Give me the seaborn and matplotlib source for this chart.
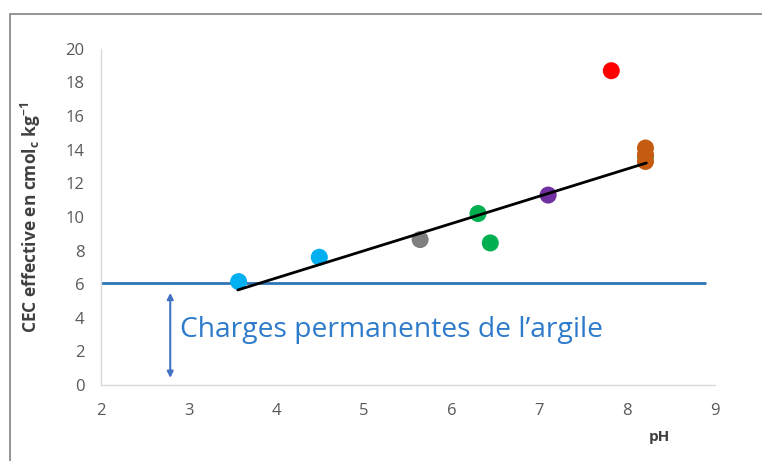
import matplotlib
matplotlib.use("Agg")
import matplotlib.pyplot as plt
import matplotlib.patches as mpatches
import seaborn as sns
import pandas as pd

# Soil samples: pH and effective CEC (cmol_c/kg)
ph_values = [3.57, 4.49, 5.64, 6.30, 6.44, 7.10, 7.82, 8.21, 8.21, 8.21, 8.21]
cec_values = [6.15, 7.6, 8.65, 10.2, 8.45, 11.3, 18.7, 13.6, 13.3, 13.7, 14.1]
groups = ["A", "A", "B", "C", "C", "D", "E", "C", "F", "F", "F"]
group_colors = {"A": "#00B0F0", "B": "#7F7F7F", "C": "#00B050",
                "D": "#7030A0", "E": "#FF0000", "F": "#C55A11"}

# Linear trend endpoints
trend_ph = [3.56, 8.22]
trend_cec = [5.65, 13.21]

# Permanent-charge level
permanent_level = 6.07
arrow_ph = 2.79
arrow_range = [0.42, 5.48]

x_ticks = [2, 3, 4, 5, 6, 7, 8, 9]
y_ticks = [0, 2, 4, 6, 8, 10, 12, 14, 16, 18, 20]

df = pd.DataFrame({"pH": ph_values, "CEC": cec_values, "group": groups})

sns.set_theme(style="white")
plt.rcParams["font.family"] = ["Open Sans", "DejaVu Sans"]

fig = plt.figure(figsize=(7.62, 4.61), dpi=100)
ax = fig.add_axes([0.1325, 0.165, 0.8055, 0.729])

# Outer chart frame
fig.patches.append(mpatches.Rectangle((0.013, -0.2), 1.2, 1.17, transform=fig.transFigure,
                                      fill=False, edgecolor="#8C8C8C", linewidth=1.3,
                                      clip_on=False))

ax.axhline(permanent_level, xmin=0, xmax=(8.89 - 2) / 7, color="#2E75B6",
           linewidth=2, zorder=1)

sns.scatterplot(data=df, x="pH", y="CEC", hue="group", palette=group_colors,
                s=150, edgecolor="none", legend=False, ax=ax, zorder=3)

sns.lineplot(x=trend_ph, y=trend_cec, color="black", linewidth=2, ax=ax, zorder=4)

ax.annotate("", xy=(arrow_ph, arrow_range[0]), xytext=(arrow_ph, arrow_range[1]),
            arrowprops=dict(arrowstyle="<|-|>", color="#4472C4", lw=1.5,
                            mutation_scale=9, shrinkA=0, shrinkB=0))
ax.text(2.9, 3.25, "Charges permanentes de l\u2019argile", color="#2E7BCB",
        fontsize=20.3, va="center", ha="left")

ax.set_xlim(2, 9)
ax.set_ylim(0, 20)
ax.set_xticks(x_ticks)
ax.set_yticks(y_ticks)
ax.tick_params(axis="both", colors="#D9D9D9", labelcolor="#595959", labelsize=12,
               length=5, width=1)
ax.tick_params(axis="x", pad=8)
ax.tick_params(axis="y", direction="out", pad=7)

for side in ["top", "right"]:
    ax.spines[side].set_visible(False)
for side in ["left", "bottom"]:
    ax.spines[side].set_color("#D9D9D9")
    ax.spines[side].set_linewidth(1)

ax.set_xlabel("pH", fontsize=11, fontweight="bold", color="#404040")
ax.xaxis.set_label_coords(0.91, -0.135)
ax.set_ylabel(r"CEC effective en cmol$_\mathregular{c}$ kg$^\mathregular{-1}$",
              fontsize=12.5, fontweight="bold", color="#404040")
ax.yaxis.set_label_coords(-0.095, 0.5)

fig.savefig("out.png", dpi=100)
